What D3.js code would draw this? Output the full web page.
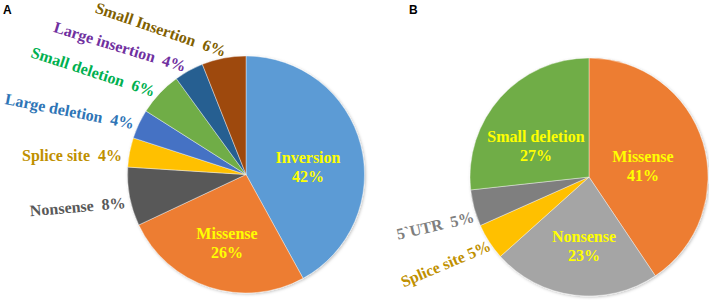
<!DOCTYPE html>
<html>
<head>
<meta charset="utf-8">
<script src="https://cdn.jsdelivr.net/npm/d3@7/dist/d3.min.js"></script>
<style>
  html, body { margin: 0; padding: 0; background: #fff; }
  svg { display: block; }
  .lbl { font-family: "Liberation Serif"; font-weight: bold; font-size: 16px; }
  .pan { font-family: "Liberation Sans"; font-weight: bold; font-size: 12px; }
</style>
</head>
<body>
<svg id="chart" width="709" height="300"></svg>
<script>
// Panel A
const catsA = ["Inversion", "Missense", "Nonsense", "Splice site", "Large deletion", "Small deletion", "Large insertion", "Small Insertion"];
const valsA = [42, 26, 8, 4, 4, 6, 4, 6];
const colorsA = ["#5B9BD5", "#ED7D31", "#595959", "#FFC000", "#4472C4", "#70AD47", "#255E91", "#9E480E"];
const textColorsA = ["#FFFF00", "#FFFF00", "#595959", "#BF9000", "#2E75B6", "#00B050", "#7030A0", "#7F6000"];
const insideA = [true, true, false, false, false, false, false, false];

// Panel B
const catsB = ["Missense", "Nonsense", "Splice site", "5`UTR", "Small deletion"];
const valsB = [41, 23, 5, 5, 27];
const colorsB = ["#ED7D31", "#A5A5A5", "#FFC000", "#7F7F7F", "#70AD47"];
const textColorsB = ["#FFFF00", "#FFFF00", "#BF9000", "#7F7F7F", "#FFFF00"];
const insideB = [true, true, false, false, true];

// label layout (positions/styles only)
const layoutA = [
  {x: 308, y: 163},
  {x: 227, y: 239},
  {x: 126, y: 208, rot: -5, sep: "\u00a0\u00a0"},
  {x: 122, y: 161, rot: 0, sep: "\u00a0\u00a0"},
  {x: 133, y: 129, rot: 11, sep: "\u00a0\u00a0"},
  {x: 153, y: 97, rot: 18, sep: "\u00a0\u00a0"},
  {x: 184, y: 72, rot: 17, sep: "\u00a0\u00a0"},
  {x: 224, y: 57, rot: 19, sep: "\u00a0\u00a0"}
];
const layoutB = [
  {x: 643, y: 162},
  {x: 584, y: 242},
  {x: 492, y: 250, rot: -23, sep: " "},
  {x: 475, y: 222, rot: -13, sep: "\u00a0\u00a0"},
  {x: 536, y: 142}
];

const svg = d3.select("#chart");
const defs = svg.append("defs");
const f = defs.append("filter").attr("id", "shadow")
  .attr("x", "-10%").attr("y", "-10%").attr("width", "120%").attr("height", "120%");
f.append("feDropShadow").attr("dx", 1).attr("dy", 1).attr("stdDeviation", 1.5)
  .attr("flood-color", "#000").attr("flood-opacity", 0.25);

function drawPie(cx, cy, r, cats, vals, colors, tcolors, inside, layout) {
  const pie = d3.pie().sort(null).value(d => d)(vals);
  const arc = d3.arc().innerRadius(0).outerRadius(r);
  const g = svg.append("g").attr("transform", `translate(${cx},${cy})`)
    .attr("filter", "url(#shadow)");
  g.selectAll("path").data(pie).enter().append("path")
    .attr("d", arc)
    .attr("fill", (d, i) => colors[i])
    .attr("stroke", "#fff")
    .attr("stroke-width", 0.4);

  cats.forEach((c, i) => {
    const L = layout[i];
    const pct = vals[i] + "%";
    if (inside[i]) {
      const t = svg.append("text")
        .attr("class", "lbl")
        .attr("text-anchor", "middle")
        .attr("fill", tcolors[i]);
      t.append("tspan").attr("x", L.x).attr("y", L.y).text(c);
      t.append("tspan").attr("x", L.x).attr("y", L.y + 19).text(pct);
    } else {
      svg.append("text")
        .attr("class", "lbl")
        .attr("transform", `translate(${L.x},${L.y}) rotate(${L.rot})`)
        .attr("text-anchor", "end")
        .attr("fill", tcolors[i])
        .text(c + L.sep + pct);
    }
  });
}

drawPie(246, 174.5, 118.5, catsA, valsA, colorsA, textColorsA, insideA, layoutA);
drawPie(589, 177, 119, catsB, valsB, colorsB, textColorsB, insideB, layoutB);

svg.append("text").attr("class", "pan").attr("x", 3).attr("y", 14).attr("fill", "#000").text("A");
svg.append("text").attr("class", "pan").attr("x", 409).attr("y", 14).attr("fill", "#000").text("B");
</script>
</body>
</html>
